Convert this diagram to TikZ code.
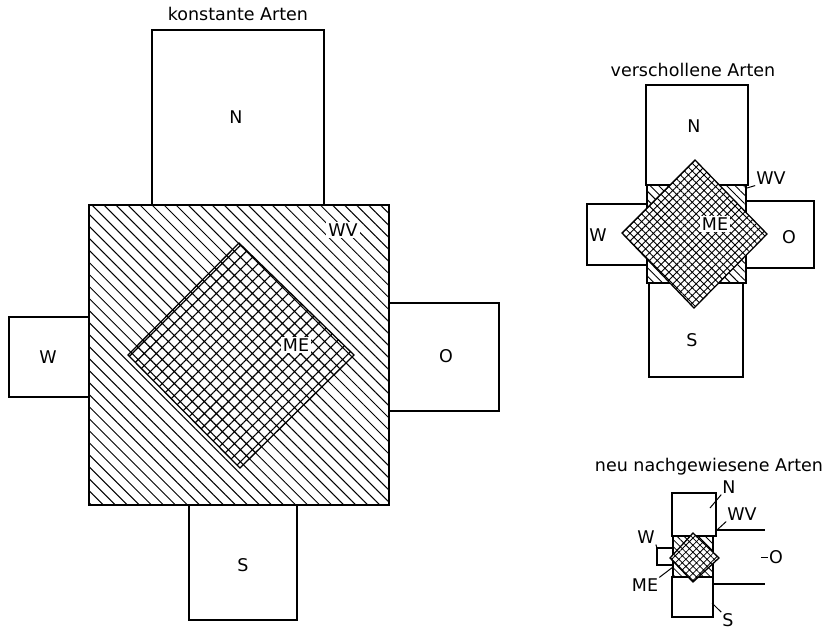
\documentclass[tikz,border=0pt]{standalone}
\usepackage{fontspec}
\setmainfont{DejaVu Sans}
\usetikzlibrary{patterns.meta}
\begin{document}
\begin{tikzpicture}[x=1pt,y=-1pt,
  box/.style={draw,line width=1.3pt},
  lbl/.style={font=\fontsize{17.5}{20}\selectfont,inner sep=1pt},
  ttl/.style={font=\fontsize{17.5}{20}\selectfont,inner sep=0pt},
  leader/.style={line width=1pt},
  wvA/.style={box,pattern={Lines[angle=-45,distance=8.5pt,line width=1pt]}},
  meA/.style={box,preaction={fill=white},pattern={Hatch[angle=45,distance=8.5pt,line width=1.1pt]}},
  wvB/.style={box,pattern={Lines[angle=-45,distance=6pt,line width=0.9pt]}},
  meB/.style={box,preaction={fill=white},pattern={Hatch[angle=45,distance=5.5pt,line width=0.9pt]}},
  wvC/.style={box,pattern={Lines[angle=-45,distance=5pt,line width=0.8pt]}},
  meC/.style={box,preaction={fill=white},pattern={Hatch[angle=45,distance=5pt,line width=0.8pt]}}]
\useasboundingbox (0,0) rectangle (828,630);

% ---------- konstante Arten ----------
\draw[box] (152,30) rectangle (324,205);
\draw[box] (9,317) rectangle (89,397);
\draw[box] (389,303) rectangle (499,411);
\draw[box] (189,505) rectangle (297,620);
\draw[wvA] (89,205) rectangle (389,505);
\draw[meA] (239,243) -- (354,355) -- (240,468) -- (128,355) -- cycle;
\node[ttl] (t1) at (238,14) {konstante Arten};
\node[lbl] (n1) at (236,117) {N};
\node[lbl] (w1) at (48,357) {W};
\node[lbl] (o1) at (446,356) {O};
\node[lbl] (s1) at (243,565) {S};
\node[lbl,fill=white,inner sep=2pt] (me1) at (296,345) {ME};
\node[lbl,fill=white,inner sep=2pt] (wv1) at (343,230) {WV};

% ---------- verschollene Arten ----------
\draw[box] (587,204) rectangle (647,265);
\draw[box] (746,201) rectangle (814,268);
\draw[box] (646,85) rectangle (748,185);
\draw[box] (649,283) rectangle (743,377);
\draw[wvB] (647,185) rectangle (746,283);
\draw[meB] (695,160) -- (767,234) -- (694,308) -- (622,233) -- cycle;
\node[ttl] (t2) at (693,70) {verschollene Arten};
\node[lbl] (n2) at (694,126) {N};
\node[lbl] (w2) at (598,235) {W};
\node[lbl] (o2) at (789,237) {O};
\node[lbl] (s2) at (692,340) {S};
\node[lbl,fill=white,inner sep=2pt] (me2) at (715,224) {ME};
\node[lbl] (wv2) at (771,178) {WV};
\coordinate (wv2c) at (747,188);
\draw[leader] (wv2c) -- (wv2.south west);

% ---------- neu nachgewiesene Arten ----------
\draw[box] (672,493) rectangle (716,536);
\draw[box] (657,548) rectangle (673,565);
\coordinate (o3a) at (717,530);
\coordinate (o3b) at (765,530);
\coordinate (o3c) at (713,584);
\coordinate (o3d) at (765,584);
\draw[box] (o3a) -- (o3b);
\draw[box] (o3c) -- (o3d);
\draw[box] (672,577) rectangle (713,617);
\draw[wvC] (673,536) rectangle (713,577);
\draw[meC] (693,533) -- (719,558) -- (693,582) -- (670,558) -- cycle;
\node[ttl] (t3) at (709,467) {neu nachgewiesene Arten};
\node[lbl] (n3) at (729,487) {N};
\node[lbl] (wv3) at (742,514) {WV};
\node[lbl] (w3) at (646,537) {W};
\node[lbl] (me3) at (645,585) {ME};
\node[lbl] (o3) at (776,557) {O};
\node[lbl] (s3) at (728,620) {S};
\coordinate (n3c) at (710,508);
\coordinate (w3c) at (657,548);
\coordinate (me3c) at (673,567);
\coordinate (s3c) at (712,603);
\coordinate (o3e) at (761,557);
\draw[leader] (n3c) -- (n3.south west);
\draw[leader] (o3a) -- (wv3.south west);
\draw[leader] (w3c) -- (w3.south east);
\draw[leader] (me3c) -- (me3.north east);
\draw[leader] (s3c) -- (s3.north west);
\draw[leader] (o3e) -- (o3.west);
\end{tikzpicture}
\end{document}
